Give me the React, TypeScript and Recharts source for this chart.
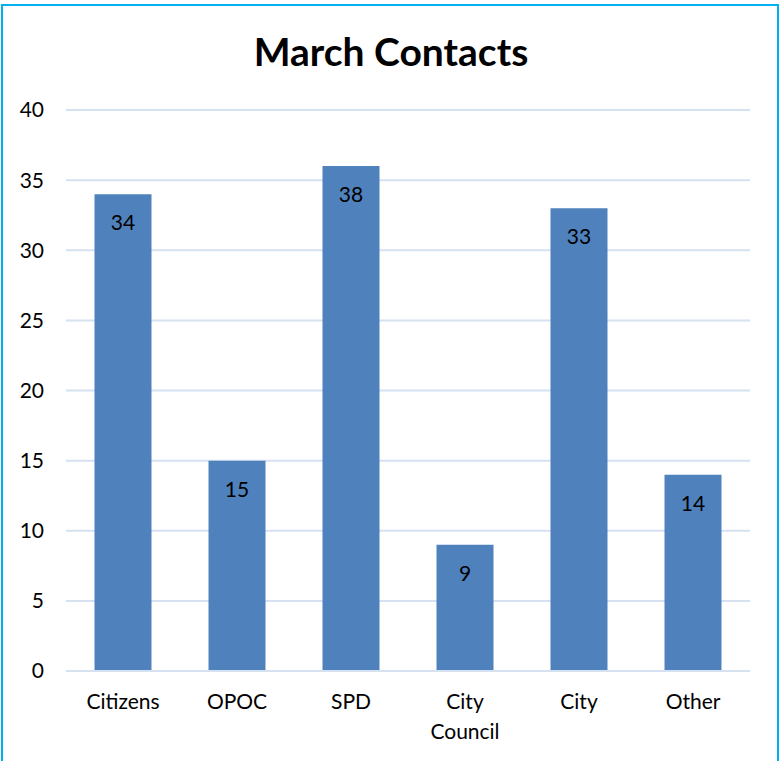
import React from 'react';
import { Bar, BarChart, CartesianGrid, LabelList, XAxis, YAxis } from 'recharts';

const categories = ['Citizens', 'OPOC', 'SPD', 'City Council', 'City', 'Other'];
// bar heights as drawn in the reference
const contacts = [34, 15, 36, 9, 33, 14];
// labels as printed on the bars (SPD reads 38 although the bar stops at 36)
const barLabels = ['34', '15', '38', '9', '33', '14'];
const yTicks = [0, 5, 10, 15, 20, 25, 30, 35, 40];

const data = categories.map((name, i) => ({ name, value: contacts[i], label: barLabels[i] }));

const FONT = 'Lato, "Open Sans", sans-serif';

function CategoryTick(props: any) {
  const { x, y, payload } = props;
  const lines = String(payload.value).split(' ');
  return (
    <g transform={`translate(${x},${y})`}>
      {lines.map((line, i) => (
        <text
          key={i}
          x={0}
          y={i * 30}
          dy={30}
          textAnchor="middle"
          fill="#000"
          fontSize={21}
          fontFamily={FONT}
        >
          {line}
        </text>
      ))}
    </g>
  );
}

export default function App() {
  return (
    <div style={{ position: 'absolute', left: 0, top: 0, width: 780, height: 761, overflow: 'hidden', background: '#fff' }}>
      <div
        style={{
          position: 'absolute',
          left: 1,
          top: 4,
          width: 774,
          height: 800,
          border: '2px solid #00B0F0',
        }}
      />
      <div
        style={{
          position: 'absolute',
          left: 0,
          top: 27,
          width: 782,
          textAlign: 'center',
          fontFamily: FONT,
          fontWeight: 700,
          fontSize: 39,
          lineHeight: '48px',
          color: '#000',
        }}
      >
        March Contacts
      </div>
      <div style={{ position: 'absolute', left: 0, top: 0 }}>
        <BarChart
          width={780}
          height={761}
          data={data}
          margin={{ top: 110, right: 30, bottom: 0, left: 0 }}
          barCategoryGap="25%"
        >
          <CartesianGrid vertical={false} stroke="#D6E1F2" strokeWidth={2} />
          <XAxis
            dataKey="name"
            axisLine={{ stroke: '#D6E1F2', strokeWidth: 2 }}
            tickLine={false}
            tick={<CategoryTick />}
            interval={0}
            height={90}
          />
          <YAxis
            width={66}
            domain={[0, 40]}
            ticks={yTicks}
            axisLine={false}
            tickLine={false}
            tickSize={0}
            tickMargin={22}
            tick={{ fill: '#000', fontSize: 21, fontFamily: FONT }}
          />
          <Bar dataKey="value" fill="#4F81BD" isAnimationActive={false}>
            <LabelList
              dataKey="label"
              position="insideTop"
              offset={21}
              fill="#000"
              fontSize={21}
              fontFamily={FONT}
            />
          </Bar>
        </BarChart>
      </div>
    </div>
  );
}
